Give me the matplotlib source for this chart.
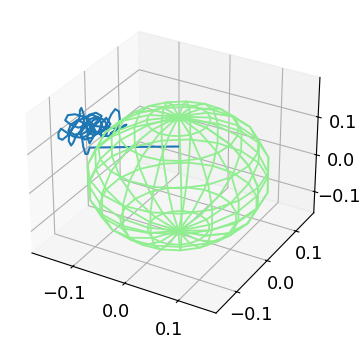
import numpy as np
import matplotlib
matplotlib.use("Agg")
import matplotlib.pyplot as plt

# sphere
RADIUS = 0.151
N_MERIDIANS = 20
N_PARALLELS = 10

# trajectory
traj_x = [0.0, -0.058, -0.125, -0.128, -0.131, -0.134, -0.135, -0.137, -0.134, -0.128, -0.122, -0.121,
          -0.127, -0.137, -0.147, -0.156, -0.164, -0.168, -0.168, -0.163, -0.156, -0.150, -0.144, -0.138,
          -0.137, -0.135, -0.132, -0.132, -0.137, -0.144, -0.148, -0.151, -0.154, -0.153, -0.147, -0.140,
          -0.130, -0.120, -0.111, -0.107, -0.109, -0.118, -0.127, -0.130, -0.124, -0.114, -0.104, -0.098,
          -0.101, -0.107, -0.109, -0.100, -0.094, -0.088, -0.083, -0.082, -0.087, -0.095, -0.085, -0.077,
          -0.073, -0.080, -0.092, -0.114, -0.127, -0.140, -0.151, -0.158, -0.154, -0.144, -0.132, -0.122,
          -0.117, -0.120, -0.125, -0.128, -0.124, -0.115, -0.109, -0.118, -0.130, -0.138, -0.132, -0.121,
          -0.111, -0.107, -0.101, -0.095, -0.104, -0.115, -0.125, -0.132, -0.141, -0.150, -0.154, -0.146,
          -0.134, -0.122, -0.112, -0.107, -0.115, -0.125, -0.128, -0.120, -0.108, -0.098, -0.091]
traj_y = [0.0, -0.033, -0.072, -0.074, -0.076, -0.077, -0.078, -0.079, -0.077, -0.074, -0.070, -0.070,
          -0.073, -0.079, -0.085, -0.090, -0.095, -0.097, -0.097, -0.094, -0.090, -0.087, -0.083, -0.080,
          -0.079, -0.078, -0.076, -0.076, -0.079, -0.083, -0.085, -0.087, -0.089, -0.088, -0.085, -0.081,
          -0.075, -0.069, -0.064, -0.062, -0.063, -0.068, -0.073, -0.075, -0.072, -0.066, -0.060, -0.057,
          -0.058, -0.062, -0.063, -0.058, -0.054, -0.051, -0.048, -0.047, -0.050, -0.055, -0.049, -0.044,
          -0.042, -0.046, -0.053, -0.066, -0.073, -0.081, -0.087, -0.091, -0.089, -0.083, -0.076, -0.070,
          -0.068, -0.069, -0.072, -0.074, -0.072, -0.066, -0.063, -0.068, -0.075, -0.080, -0.076, -0.070,
          -0.064, -0.062, -0.058, -0.055, -0.060, -0.066, -0.072, -0.076, -0.081, -0.087, -0.089, -0.084,
          -0.077, -0.070, -0.065, -0.062, -0.066, -0.072, -0.074, -0.069, -0.062, -0.057, -0.053]
traj_z = [0.074, 0.074, 0.074, 0.058, 0.058, 0.076, 0.095, 0.113, 0.129, 0.139, 0.134, 0.118,
          0.105, 0.100, 0.103, 0.113, 0.124, 0.113, 0.100, 0.095, 0.105, 0.118, 0.134, 0.150,
          0.170, 0.176, 0.160, 0.139, 0.118, 0.103, 0.087, 0.080, 0.092, 0.110, 0.129, 0.142,
          0.153, 0.158, 0.150, 0.134, 0.116, 0.105, 0.113, 0.132, 0.147, 0.153, 0.145, 0.126,
          0.108, 0.100, 0.110, 0.134, 0.158, 0.172, 0.166, 0.145, 0.121, 0.110, 0.118, 0.129,
          0.132, 0.121, 0.124, 0.129, 0.132, 0.126, 0.134, 0.145, 0.158, 0.160, 0.153, 0.139,
          0.121, 0.100, 0.085, 0.103, 0.124, 0.139, 0.150, 0.145, 0.129, 0.110, 0.095, 0.100,
          0.118, 0.137, 0.150, 0.134, 0.118, 0.110, 0.118, 0.137, 0.145, 0.134, 0.118, 0.108,
          0.110, 0.124, 0.139, 0.155, 0.163, 0.158, 0.139, 0.121, 0.105, 0.103, 0.113]

plt.rcParams['font.size'] = 13

fig = plt.figure(figsize=(3.62, 3.43), dpi=100)
ax = fig.add_axes([0.02, 0.027, 0.905, 0.955], projection='3d')

u, v = np.mgrid[0:2 * np.pi:complex(N_MERIDIANS), 0:np.pi:complex(N_PARALLELS)]
x = RADIUS * np.cos(u) * np.sin(v)
y = RADIUS * np.sin(u) * np.sin(v)
z = RADIUS * np.cos(v)
ax.plot_wireframe(x, y, z, color='lightgreen', rstride=1, cstride=1, linewidth=1.3)
ax.plot(traj_x, traj_y, traj_z, color='tab:blue', linewidth=1.5)

ax.set_xticks([-0.1, 0.0, 0.1])
ax.set_yticks([-0.1, 0.0, 0.1])
ax.set_zticks([-0.1, 0.0, 0.1])
ax.set_xlim(-0.181, 0.169)
ax.set_ylim(-0.165, 0.165)
ax.set_zlim(-0.158, 0.202)
ax.tick_params(axis='x', pad=2)
ax.tick_params(axis='y', pad=1)
ax.tick_params(axis='z', pad=3)

plt.savefig('out.png', dpi=100)
